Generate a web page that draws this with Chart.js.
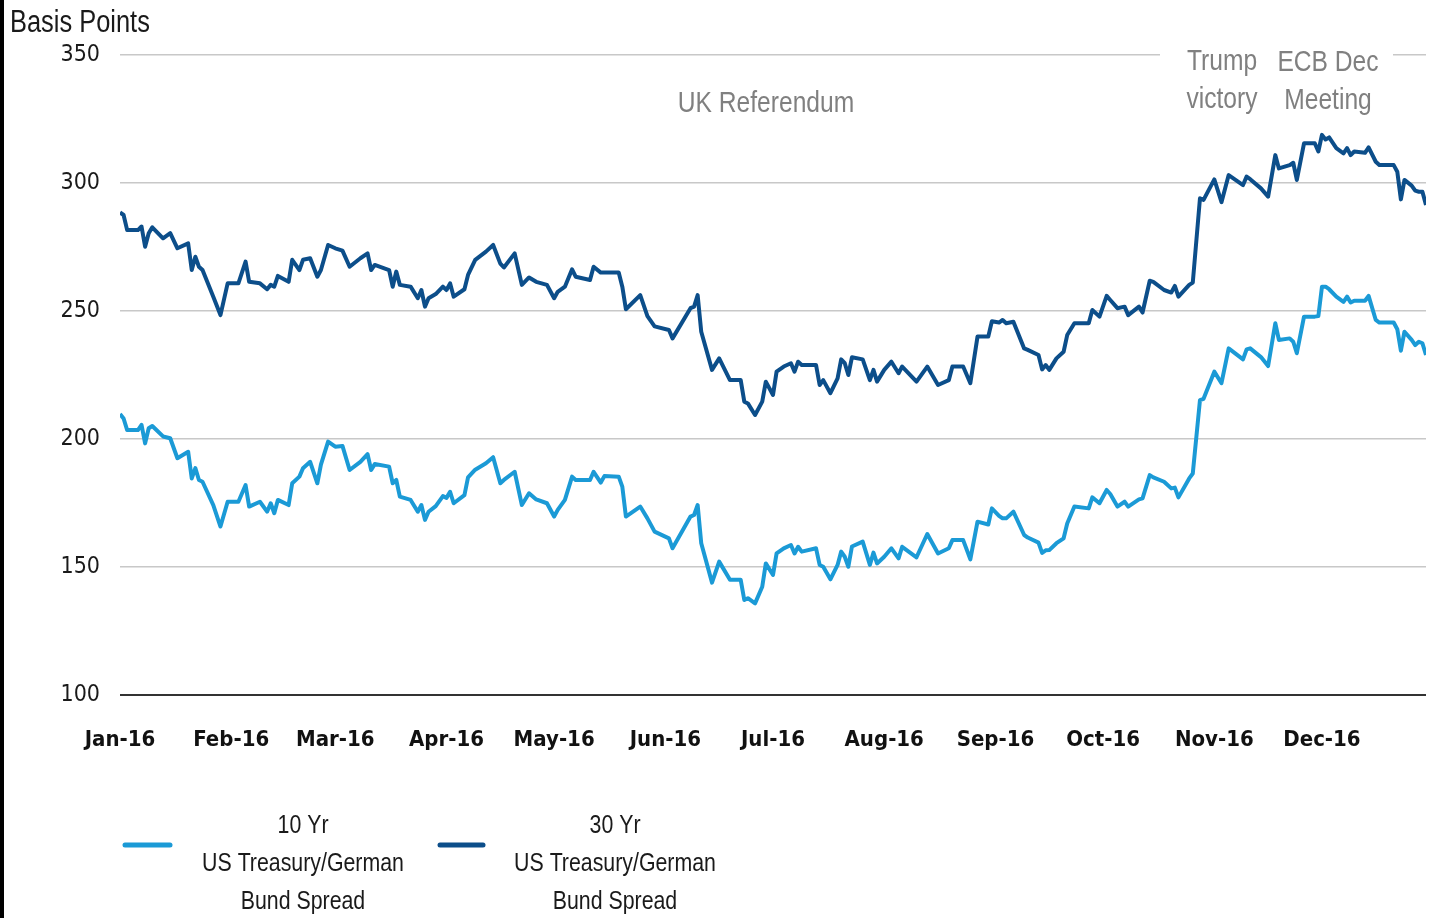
<!DOCTYPE html>
<html>
<head>
<meta charset="utf-8">
<script src="https://cdn.jsdelivr.net/npm/chart.js@4.4.1/dist/chart.umd.min.js"></script>
<style>
  html, body { margin: 0; padding: 0; background: #fff; }
  #wrap { width: 1433px; height: 918px; position: relative; }
</style>
</head>
<body>
<div id="wrap"><canvas id="spreadChart" width="1433" height="918"></canvas></div>
<script>
// day of year (0 = 1 Jan 2016) for each observation
const days = [0,1,2,5,6,7,8,9,12,14,16,19,20,21,22,23,26,28,30,33,35,36,39,41,42,43,44,47,48,50,51,53,55,56,58,
  60,62,64,67,69,70,71,75,76,77,78,81,83,84,85,86,88,90,91,92,93,96,97,99,102,104,106,107,110,112,114,116,119,121,
  122,124,126,127,131,132,134,135,139,140,141,145,147,149,153,154,159,160,161,162,165,167,170,173,174,175,177,179,180,182,
  183,185,187,188,189,190,194,195,196,198,200,201,202,203,204,207,209,210,211,213,215,217,218,222,225,228,231,232,235,237,239,242,243,
  245,246,247,249,252,253,256,257,258,259,261,263,264,266,270,271,273,275,276,278,280,281,284,285,287,288,291,293,294,295,298,299,301,302,305,307,
  309,313,314,315,318,320,322,323,326,327,328,330,333,334,335,336,337,339,341,342,343,344,347,348,350,351,355,356,357,358,360,361,362,363,364];

const tenYr = [209.8,208,203.5,203.5,205.5,198.3,204.2,205.1,201,200.3,192.5,195,184.6,188.6,184,183.3,174.2,165.8,175.5,175.5,182,173.6,175.5,171.6,174.9,171,176.2,174.2,182.7,185.3,188.6,191.1,182.7,190,199,
  197,197.3,187.9,191.1,194.1,187.9,190.2,189.2,182.7,184,177.5,176.2,171.6,174.2,168.4,171.6,173.8,177.7,177,179.4,174.9,178.1,185,188,190.5,192.9,182.7,184,187.2,174.2,178.8,176.4,174.9,169.7,
  172.3,176.2,185.3,184,184,187.2,183,185.5,185.3,181.4,169.7,173.6,169,163.8,161.2,157.3,169.7,170.3,174.2,159.3,143.9,152.1,145,145,137.1,137.8,135.8,142.3,151.4,146.9,
  155.3,157.3,158.6,155.3,157.9,156,157.3,150.8,150.1,145.2,150.8,156,154,150.1,158,159.9,150.8,155.6,151.4,154,157.3,153.4,157.9,153.8,162.9,155.3,157.3,160.5,160.5,153,167.7,166.6,172.9,
  170,169,169,171.6,162.5,161.5,159.5,155.5,156.5,156.6,159.3,161.2,167,173.6,172.9,177.2,174.9,180.1,178.5,173.6,175.5,173.6,176.4,176.8,185.9,185,183.3,180.7,181,177.2,184.6,186.5,215.2,215.7,226.3,221.8,
  235.4,231.1,235,235.4,232,228.5,245.2,238.7,239.3,238,233.5,247.8,247.8,248,259.5,259.5,258.5,255.6,253.6,255.6,253.3,254,254,255.9,246.5,245.5,245.5,242.9,234.5,241.9,238.7,236.7,238,237.4,232.8];

const thirtyYr = [288.5,287.5,281.6,281.6,283,275.1,280.4,282.7,278.4,280.4,274.5,276.4,266,271.2,267.3,266,255.6,248.4,260.8,260.8,269.3,261.4,260.8,258.5,260.2,259.5,263.7,261.4,270,266,270,270.6,263.4,266,275.8,
  274.5,273.6,267.3,270.6,272.5,266,268,266,259.5,265.4,260.2,259.5,255,258.2,251.7,255,256.6,259.5,258.2,260.8,255.6,258.5,264.1,270,273.2,275.8,268.5,267,272.5,260.2,263.1,261.4,260.2,255,
  257.5,259.5,266.3,263.4,262.1,267.3,265,265,265,259.5,250.7,256.2,248,244,242.6,239.3,251.1,251.7,256.2,241.9,227,231.5,223,223,214.6,213.9,209.4,214.6,222.4,217.2,
  226.3,228.3,229.6,226.3,230.2,228.9,228.9,221.1,223,217.9,223.7,231.1,229.6,225,231.9,231.1,223,227,222.4,227,230.2,225.7,228.3,222.4,228.3,221.1,223,228.3,228.3,221.8,240,240,246,
  245.5,246.5,245.2,245.8,235.4,234.8,232.8,227.2,228.9,227,231.5,234.1,240.6,245.2,245.2,250.4,247.8,255.9,254.3,251.1,251.7,248.4,251.7,249.4,261.8,261.4,258.2,257.2,259.8,255.6,260.2,261.1,294,293.4,301.4,292.5,
  303.1,299.2,302.5,301.5,297.9,294.7,310.9,305.7,307,307.9,301.2,315.5,315.5,312.3,318.8,317,317.8,313.6,311.6,313.6,310.9,312.3,311.8,313.9,308.3,307,307,304.4,293.6,301.2,299,297,296.6,296.6,291.4];

const monthStarts = [0,31,60,91,121,152,182,213,244,274,305,335];
const monthLabels = ["Jan-16","Feb-16","Mar-16","Apr-16","May-16","Jun-16","Jul-16","Aug-16","Sep-16","Oct-16","Nov-16","Dec-16"];
const yTicks = [100,150,200,250,300,350];

const seriesNames = [
  ["10 Yr", "US Treasury/German", "Bund Spread"],
  ["30 Yr", "US Treasury/German", "Bund Spread"]
];
const LIGHT = "#1b9ad6";
const DARK = "#0c4e8a";
const TICK_FONT = '"DejaVu Sans Condensed", "Liberation Sans", sans-serif';

// Arial-narrow look: Liberation Sans squeezed horizontally
function narrowText(c, text, x, y, size, color) {
  c.save();
  c.translate(x, y);
  c.scale(0.82, 1);
  c.font = size + 'px "Liberation Sans", Arial, sans-serif';
  c.fillStyle = color;
  c.fillText(text, 0, 0);
  c.restore();
}

const extras = {
  id: "extras",
  afterDraw(chart) {
    const c = chart.ctx;
    c.save();
    // left frame
    c.fillStyle = "#000";
    c.fillRect(0, 0, 4, 918);

    c.textBaseline = "middle";
    c.textAlign = "left";
    narrowText(c, "Basis Points", 10, 23, 31, "#1a1a1a");

    // event notes
    c.fillStyle = "#fff";
    c.fillRect(1160, 40, 233, 30);
    c.textAlign = "center";
    narrowText(c, "UK Referendum", 766, 104, 30, "#808080");
    narrowText(c, "Trump", 1222, 62, 30, "#808080");
    narrowText(c, "victory", 1222, 100, 30, "#808080");
    narrowText(c, "ECB Dec", 1328, 63, 30, "#808080");
    narrowText(c, "Meeting", 1328, 101, 30, "#808080");

    // legend
    const items = [
      { x0: 125, x1: 170, tx: 303, color: LIGHT, lines: seriesNames[0] },
      { x0: 440, x1: 483, tx: 615, color: DARK, lines: seriesNames[1] }
    ];
    c.lineCap = "round";
    c.lineWidth = 5;
    items.forEach(it => {
      c.strokeStyle = it.color;
      c.beginPath();
      c.moveTo(it.x0, 845);
      c.lineTo(it.x1, 845);
      c.stroke();
      it.lines.forEach((t, i) => narrowText(c, t, it.tx, 826 + i * 38, 26, "#1a1a1a"));
    });
    c.restore();
  }
};

new Chart(document.getElementById("spreadChart").getContext("2d"), {
  type: "line",
  data: {
    datasets: [
      {
        label: seriesNames[0].join(" "),
        data: days.map((d, i) => ({ x: d, y: tenYr[i] })),
        borderColor: LIGHT,
        borderWidth: 4,
        pointRadius: 0,
        tension: 0,
        borderJoinStyle: "round",
      },
      {
        label: seriesNames[1].join(" "),
        data: days.map((d, i) => ({ x: d, y: thirtyYr[i] })),
        borderColor: DARK,
        borderWidth: 4,
        pointRadius: 0,
        tension: 0,
        borderJoinStyle: "round",
      },
    ],
  },
  options: {
    responsive: false,
    animation: false,
    events: [],
    layout: { padding: { top: 55, right: 7, left: 0, bottom: 0 } },
    plugins: {
      legend: { display: false },
      tooltip: { enabled: false },
    },
    scales: {
      x: {
        type: "linear",
        min: 0,
        max: 364,
        afterBuildTicks: (scale) => {
          scale.ticks = monthStarts.map(v => ({ value: v }));
        },
        afterFit: (scale) => { scale.height = 223; },
        grid: { display: false },
        border: { display: false },
        ticks: {
          autoSkip: false,
          maxRotation: 0,
          padding: 24,
          color: "#111",
          font: { family: TICK_FONT, size: 22, weight: "bold" },
          callback: (v) => monthLabels[monthStarts.indexOf(v)],
        },
      },
      y: {
        min: 100,
        max: 350,
        afterBuildTicks: (scale) => {
          scale.ticks = yTicks.map(v => ({ value: v }));
        },
        afterFit: (scale) => { scale.width = 120; },
        border: { display: false },
        grid: {
          drawTicks: false,
          color: (ctx) => (ctx.tick && ctx.tick.value === 100 ? "#333" : "#c8c8c8"),
          lineWidth: (ctx) => (ctx.tick && ctx.tick.value === 100 ? 2 : 1.5),
        },
        ticks: {
          padding: 20,
          color: "#1a1a1a",
          font: { family: TICK_FONT, size: 23 },
        },
      },
    },
  },
  plugins: [extras],
});
</script>
</body>
</html>
